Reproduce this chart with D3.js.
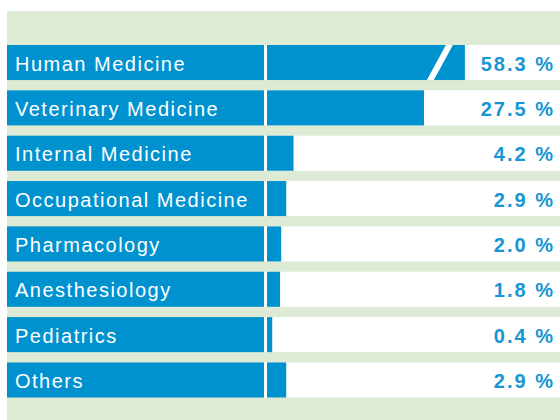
<!DOCTYPE html>
<html>
<head>
<meta charset="utf-8">
<script src="https://cdn.jsdelivr.net/npm/d3@7"></script>
<style>
  body { margin: 0; background: #fff; }
  svg { display: block; }
</style>
</head>
<body>
<div id="chart"></div>
<script>
// data
const categories = ["Human Medicine", "Veterinary Medicine", "Internal Medicine", "Occupational Medicine",
                    "Pharmacology", "Anesthesiology", "Pediatrics", "Others"];
const shares = [58.3, 27.5, 4.2, 2.9, 2.0, 1.8, 0.4, 2.9];
const valueLabels = ["58.3 %", "27.5 %", "4.2 %", "2.9 %", "2.0 %", "1.8 %", "0.4 %", "2.9 %"];
const axisCap = 34.8; // bars above this are drawn broken

const width = 560, height = 420;
const blue = "#0092cf", green = "#ddebd5";

const svg = d3.select("#chart").append("svg")
    .attr("width", width)
    .attr("height", height);

// background panel
svg.append("rect")
    .attr("x", 7).attr("y", 11)
    .attr("width", width - 7).attr("height", height - 11)
    .attr("fill", green);

let y = d3.scaleBand()
    .domain(categories)
    .range([45, 397.5])
    .paddingInner(0.227)
    .paddingOuter(0);

let x = d3.scaleLinear()
    .domain([0, 27.5])
    .range([270, 424]);

let barStart = 267;

let rows = svg.selectAll(".row")
    .data(categories)
    .enter().append("g")
    .attr("class", "row")
    .attr("transform", d => `translate(0, ${y(d)})`);

// label box
rows.append("rect")
    .attr("x", 7).attr("width", 257)
    .attr("height", y.bandwidth())
    .attr("fill", blue);

// white bar track
rows.append("rect")
    .attr("x", 264).attr("width", width - 264)
    .attr("height", y.bandwidth())
    .attr("fill", "#fff");

// bars
rows.append("rect")
    .attr("x", barStart)
    .attr("width", (d, i) => x(Math.min(shares[i], axisCap)) - barStart)
    .attr("height", y.bandwidth())
    .attr("fill", blue);

// break mark on truncated bars
rows.filter((d, i) => shares[i] > axisCap)
    .append("polygon")
    .attr("points", () => {
        let e = x(axisCap);
        let h = y.bandwidth();
        return [[e - 38, h], [e - 31, h], [e - 12, 0], [e - 19, 0]].join(" ");
    })
    .attr("fill", "#fff");

rows.append("text")
    .attr("x", 15)
    .attr("y", y.bandwidth() / 2 + 8)
    .attr("fill", "#fff")
    .attr("font-family", "'Liberation Sans', Arial, sans-serif")
    .attr("font-size", 20)
    .attr("letter-spacing", "1.5px")
    .text(d => d);

rows.append("text")
    .attr("x", 555)
    .attr("y", y.bandwidth() / 2 + 8)
    .attr("text-anchor", "end")
    .attr("fill", "#1696d3")
    .attr("font-family", "'Liberation Sans', Arial, sans-serif")
    .attr("font-weight", "bold")
    .attr("font-size", 20)
    .attr("letter-spacing", "2px")
    .text((d, i) => valueLabels[i]);
</script>
</body>
</html>
